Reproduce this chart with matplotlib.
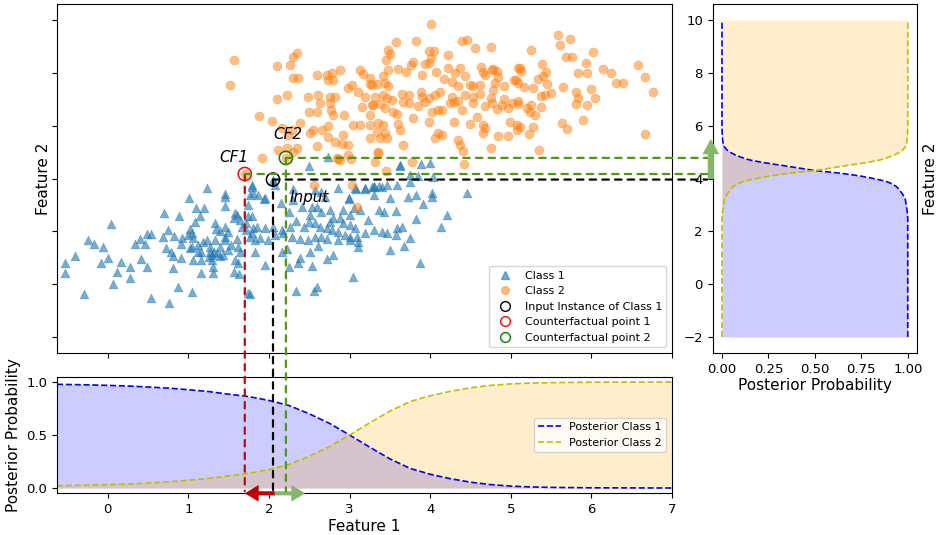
import matplotlib
matplotlib.use('Agg')
import matplotlib.pyplot as plt
from matplotlib.patches import ConnectionPatch
from matplotlib.lines import Line2D
import numpy as np

# ---- data ------------------------------------------------------------------
class1_pts = [
    (1.23, 3.63), (1.01, 3.25), (1.46, 3.41), (1.45, 2.96), (1.10, 2.87), (1.20, 2.90), (0.70, 2.71), (0.89, 2.59),
    (1.14, 2.58), (1.08, 2.37), (1.58, 2.68), (1.56, 2.49), (0.04, 2.27), (0.49, 1.90), (0.54, 1.90), (0.40, 1.70),
    (0.34, 1.51), (0.46, 1.51), (-0.24, 1.67), (-0.17, 1.51), (-0.06, 1.40), (-0.41, 1.07), (-0.53, 0.79), (-0.53, 0.41),
    (0.00, 0.98), (-0.08, 0.81), (0.16, 0.83), (0.11, 0.47), (0.27, 0.66), (0.28, 0.22), (0.41, 0.95), (0.49, 0.64),
    (0.07, 0.01), (-0.29, -0.38), (0.54, -0.53), (0.76, -0.72), (0.87, -0.12), (1.04, -0.31), (0.81, 0.60), (0.91, 0.98),
    (0.69, 1.80), (0.75, 2.05), (0.82, 1.84), (0.92, 1.74), (1.02, 2.08), (1.04, 1.93), (1.00, 1.86), (1.06, 1.74),
    (0.72, 1.36), (0.78, 1.23), (0.81, 1.07), (0.91, 1.52), (1.02, 1.36), (1.04, 1.42), (1.06, 0.92), (1.12, 1.23),
    (1.16, 0.92), (1.16, 0.44), (1.30, 0.41), (1.31, 0.66), (1.29, 0.92), (1.32, 1.23), (1.27, 1.42), (1.23, 1.67),
    (1.33, 1.67), (1.34, 2.08), (1.33, 2.30), (1.39, 2.03), (1.45, 2.15), (1.49, 1.99), (1.46, 1.80), (1.39, 1.42),
    (1.43, 1.10), (1.49, 1.29), (1.53, 1.48), (1.60, 1.72), (1.62, 1.42), (1.64, 1.23), (1.58, 0.92), (1.62, 0.81),
    (1.56, 0.47), (1.63, 0.39), (1.74, -0.35), (1.66, 2.15), (1.72, 2.30), (1.72, 2.05), (1.79, 1.93), (1.64, 2.43),
    (1.60, 2.62), (1.74, 3.00), (1.76, 3.38), (1.74, 2.58), (1.79, 2.58), (1.39, 1.07), (1.45, 1.67), (1.27, 1.23),
    (1.29, 1.10), (1.25, 1.04), (1.35, 1.17), (1.18, 1.61), (1.12, 1.48), (1.16, 1.23),
    (2.73, 4.80), (2.50, 4.47), (3.62, 4.51), (3.88, 4.54), (4.00, 4.60), (1.79, 3.75), (1.94, 3.21), (1.80, 3.44),
    (2.05, 3.96), (2.15, 3.06), (2.25, 2.74), (2.30, 3.19), (2.41, 2.93), (2.53, 2.93), (2.51, 2.62), (2.59, 2.93),
    (2.65, 2.74), (2.76, 2.81), (2.86, 3.63), (2.99, 3.21), (3.08, 3.59), (3.19, 3.59), (3.30, 3.69), (3.40, 3.69),
    (3.46, 3.75), (3.30, 3.38), (3.50, 3.25), (3.73, 3.31), (3.91, 3.02), (4.02, 3.44), (2.92, 2.81), (3.01, 2.62),
    (3.05, 2.87), (3.13, 2.81), (3.23, 2.43), (3.36, 2.81), (3.43, 2.74), (3.57, 2.78), (3.83, 2.47), (4.21, 2.62),
    (4.14, 2.15), (3.59, 2.12), (3.65, 2.15), (3.75, 1.76), (3.57, 1.86), (3.46, 1.93), (3.40, 1.99), (3.30, 2.05),
    (3.19, 1.93), (3.09, 1.80), (3.01, 1.80), (2.94, 1.86), (2.86, 1.99), (2.76, 2.37), (2.78, 2.05), (2.72, 2.12),
    (2.63, 2.18), (2.57, 2.30), (2.50, 2.37), (2.43, 2.15), (2.34, 2.40), (2.26, 2.18), (2.16, 2.05), (2.05, 2.18),
    (1.95, 2.12), (1.85, 2.15), (1.80, 2.12), (1.76, 1.80), (1.83, 1.67), (1.89, 1.74), (1.99, 1.67), (2.07, 1.86),
    (2.18, 1.93), (2.28, 1.80), (2.39, 1.70), (2.49, 1.67), (2.57, 1.78), (2.65, 1.80), (2.72, 1.70), (2.86, 1.67),
    (3.01, 1.67), (3.11, 1.42), (3.11, 1.61), (2.61, 1.45), (2.51, 1.23), (2.39, 0.98), (2.22, 1.32), (2.16, 1.23),
    (2.25, 0.66), (1.95, 0.73), (1.83, 1.23), (2.36, 0.81), (2.53, 0.69), (2.72, 0.94), (2.80, 1.10), (3.04, 0.26),
    (3.50, 1.29), (3.67, 1.45), (3.87, 0.79), (2.59, -0.09), (2.56, -0.25), (2.34, -0.25), (1.76, -0.37), (2.88, 2.49),
    (2.92, 2.33), (3.01, 2.24), (3.07, 2.12), (2.80, 2.52),
    (3.63, 4.49), (3.75, 4.13), (3.85, 4.10), (4.03, 4.05), (3.30, 3.73), (3.36, 3.73), (3.59, 3.75), (3.75, 3.88),
    (3.83, 3.38), (4.02, 3.31), (4.46, 3.44), (1.79, 3.69), (1.87, 3.38), (1.95, 3.25), (2.30, 3.60), (2.57, 3.57),
    (2.65, 3.50), (2.70, 3.31), (3.07, 3.63), (3.19, 3.63), (3.28, 3.69), (2.99, 3.25), (1.45, 3.31), (2.07, 3.75),
]

class2_pts = [
    (1.57, 8.49), (1.52, 7.54), (2.35, 8.75), (2.30, 8.60), (2.10, 8.26), (2.26, 8.30), (2.30, 7.80), (2.36, 7.80),
    (2.22, 7.16), (2.10, 7.01), (1.88, 6.37), (2.04, 6.18), (2.39, 6.10), (2.16, 5.91), (2.29, 5.84), (2.24, 5.65),
    (2.11, 5.08), (2.22, 5.16), (2.30, 5.00), (2.35, 5.16), (1.91, 4.78), (2.48, 7.09), (2.61, 7.16), (2.50, 6.52),
    (2.60, 6.52), (2.63, 6.86), (2.60, 7.92), (2.72, 7.92), (2.78, 7.99), (2.73, 7.73), (2.80, 7.73), (2.88, 8.11),
    (2.76, 7.09), (2.82, 7.09), (2.76, 6.86), (2.77, 6.59), (2.80, 6.40), (2.93, 6.40), (2.73, 5.99), (2.66, 5.84),
    (2.55, 5.84), (2.51, 5.72), (2.73, 5.57), (2.82, 5.38), (2.91, 5.31), (2.98, 5.27), (2.98, 4.89), (2.86, 4.74),
    (2.92, 5.65), (3.04, 6.03), (2.98, 7.43), (3.03, 7.54), (3.11, 7.27), (3.19, 7.09), (3.15, 6.71), (3.28, 6.78),
    (3.25, 6.03), (3.13, 6.03), (3.25, 5.53), (3.13, 8.11), (3.17, 7.96), (3.25, 7.80), (3.28, 7.54), (3.25, 6.40),
    (2.88, 4.70), (3.02, 4.74),
    (4.01, 9.85), (3.57, 9.17), (3.83, 9.21), (3.48, 8.86), (3.50, 8.71), (3.45, 8.49), (4.40, 9.21), (4.46, 9.24),
    (4.55, 8.94), (4.76, 8.98), (3.98, 8.83), (4.05, 8.83), (4.01, 8.56), (4.22, 8.67), (3.79, 8.41), (3.76, 8.30),
    (3.93, 8.33), (3.98, 8.37), (4.22, 8.18), (4.37, 8.18), (4.31, 7.99), (4.43, 7.88), (3.48, 8.11), (3.60, 8.15),
    (3.70, 8.03), (3.90, 7.92), (4.07, 8.03), (3.42, 7.88), (3.25, 7.58), (3.34, 7.58), (3.44, 7.62), (3.48, 7.50),
    (4.17, 7.77), (4.27, 7.65), (4.35, 7.50), (4.50, 7.54), (4.53, 7.50), (4.62, 7.54), (4.63, 8.22), (4.65, 8.03),
    (4.68, 7.92), (4.77, 8.11), (4.78, 8.15), (4.83, 8.07), (4.84, 7.84), (4.81, 7.62), (4.78, 7.35), (4.91, 7.50),
    (5.04, 7.73), (5.09, 8.18),
    (3.32, 7.09), (3.42, 7.16), (3.47, 7.05), (3.53, 6.97), (3.65, 7.20), (3.74, 7.16), (3.88, 7.28), (3.90, 7.09),
    (3.98, 7.05), (4.06, 7.16), (4.12, 7.28), (4.27, 7.09), (4.35, 6.93), (4.43, 7.16), (4.53, 7.09), (4.62, 7.20),
    (4.75, 7.05), (4.77, 6.86), (4.91, 7.01), (4.89, 6.78), (5.02, 6.86), (5.09, 6.82), (3.29, 6.78), (3.38, 6.82),
    (3.44, 6.67), (3.54, 6.52), (3.59, 6.44), (3.66, 6.90), (3.74, 6.86), (3.85, 6.75), (3.93, 6.90), (4.02, 6.52),
    (4.10, 6.59), (4.15, 6.59), (4.25, 6.86), (4.29, 6.90), (4.40, 6.59), (4.53, 6.86), (4.68, 6.75), (4.83, 6.63),
    (4.97, 6.67),
    (3.35, 6.10), (3.42, 6.03), (3.34, 5.76), (3.44, 5.72), (3.38, 5.53), (3.47, 5.53), (3.60, 6.06), (3.63, 5.84),
    (3.79, 6.29), (3.99, 6.14), (4.10, 5.72), (4.06, 5.53), (4.15, 5.65), (4.30, 6.14), (4.35, 5.46), (4.37, 5.27),
    (4.41, 5.04), (4.50, 6.06), (4.58, 6.33), (4.65, 6.03), (4.68, 5.91), (4.66, 5.72), (4.84, 5.61), (4.75, 5.16),
    (4.96, 5.61), (5.08, 5.84), (4.99, 6.14), (3.35, 5.00), (3.66, 5.27), (3.32, 4.62), (3.45, 4.28), (3.78, 4.62),
    (4.42, 4.55),
    (5.59, 9.43), (5.61, 9.05), (5.74, 9.28), (5.25, 8.86), (5.68, 8.60), (5.76, 8.60), (6.02, 8.79), (5.93, 8.37),
    (5.39, 8.33), (5.12, 8.18), (5.13, 8.07), (5.83, 7.99), (5.95, 7.99), (5.44, 8.03), (5.40, 7.88), (5.34, 7.77),
    (5.45, 7.58), (6.15, 8.15), (6.24, 7.99), (6.30, 7.62), (6.39, 7.62), (6.58, 8.30), (6.67, 7.84), (6.76, 7.27),
    (6.66, 5.69), (5.06, 7.73), (5.09, 7.62), (5.16, 7.46), (5.27, 7.43), (5.50, 7.24), (5.43, 7.16), (5.37, 7.12),
    (5.65, 7.46), (5.81, 7.27), (5.83, 7.05), (5.81, 6.82), (5.95, 6.78), (5.99, 7.39), (6.04, 7.05), (5.89, 6.21),
    (5.64, 6.10), (5.70, 5.88), (5.09, 6.93), (5.25, 6.78), (5.20, 6.67), (5.24, 6.52), (5.30, 6.40), (5.37, 6.71),
    (5.08, 6.03), (5.12, 5.95), (5.28, 5.95), (5.22, 5.69), (5.35, 5.08),
    (2.60, 5.23), (2.84, 4.78), (3.35, 4.97), (2.56, 3.75), (3.03, 3.75), (3.09, 2.92),
    (1.70, 4.17), (2.21, 4.78),
]

input_pt = (2.05, 3.96)
cf1_pt = (1.70, 4.17)
cf2_pt = (2.21, 4.78)

# posterior along feature 1 (bottom panel)
feat1_grid = [-0.63, -0.25, 0.0, 0.25, 0.5, 0.75, 1.0, 1.25, 1.5, 1.75, 2.0, 2.25, 2.5, 2.75,
              3.0, 3.25, 3.5, 3.75, 4.0, 4.25, 4.5, 4.75, 5.0, 5.25, 5.5, 6.0, 6.5, 7.0]
post1_f1 = [0.978, 0.973, 0.968, 0.962, 0.953, 0.942, 0.927, 0.910, 0.885, 0.862, 0.826, 0.778, 0.700, 0.610,
            0.500, 0.385, 0.275, 0.185, 0.130, 0.088, 0.055, 0.032, 0.018, 0.010, 0.006, 0.002, 0.001, 0.000]
post2_f1 = [0.022, 0.027, 0.032, 0.038, 0.047, 0.058, 0.073, 0.090, 0.115, 0.138, 0.174, 0.222, 0.300, 0.390,
            0.500, 0.615, 0.725, 0.815, 0.870, 0.912, 0.945, 0.968, 0.982, 0.990, 0.994, 0.998, 0.999, 1.000]

# posterior along feature 2 (right panel)
feat2_grid = [-2.0, 2.5, 2.7, 2.9, 3.2, 3.4, 3.6, 3.7, 3.8, 3.9, 4.0, 4.1, 4.2, 4.3, 4.4, 4.5,
              4.6, 4.7, 4.8, 4.9, 5.0, 5.1, 5.2, 5.35, 5.5, 5.75, 6.0, 10.0]
post1_f2 = [1.000, 1.000, 0.998, 0.994, 0.987, 0.973, 0.952, 0.938, 0.915, 0.880, 0.815, 0.740, 0.640, 0.500,
            0.410, 0.320, 0.225, 0.150, 0.105, 0.070, 0.042, 0.024, 0.013, 0.006, 0.003, 0.001, 0.000, 0.000]
post2_f2 = [0.000, 0.000, 0.002, 0.006, 0.013, 0.027, 0.048, 0.062, 0.085, 0.120, 0.185, 0.260, 0.360, 0.500,
            0.590, 0.680, 0.775, 0.850, 0.895, 0.930, 0.958, 0.976, 0.987, 0.994, 0.997, 0.999, 1.000, 1.000]

f1_ticks = [0, 1, 2, 3, 4, 5, 6, 7]
f2_ticks = [-2, 0, 2, 4, 6, 8, 10]

# ---- style -----------------------------------------------------------------
plt.rcParams['font.size'] = 11
plt.rcParams['xtick.labelsize'] = 9.5
plt.rcParams['ytick.labelsize'] = 9.5

c1 = np.array(class1_pts)
c2 = np.array(class2_pts)

fig = plt.figure(figsize=(9.37, 5.35), dpi=100)
ax = fig.add_axes([0.0608, 0.3405, 0.6564, 0.6517])
ax_b = fig.add_axes([0.0608, 0.0779, 0.6564, 0.2180])
ax_r = fig.add_axes([0.7606, 0.3405, 0.2181, 0.6517])

# main scatter
ax.scatter(c1[:, 0], c1[:, 1], marker='^', s=40, color='C0', alpha=0.6, linewidths=0.4)
ax.scatter(c2[:, 0], c2[:, 1], marker='o', s=42, color='C1', alpha=0.5, linewidths=0.4)
ax.scatter(*input_pt, s=90, facecolors='none', edgecolors='black', linewidths=1.1, zorder=5)
ax.scatter(*cf1_pt, s=90, facecolors='none', edgecolors='red', linewidths=1.1, zorder=5)
ax.scatter(*cf2_pt, s=90, facecolors='none', edgecolors='green', linewidths=1.1, zorder=5)

ax.text(1.57, 4.80, 'CF1', fontsize=11, style='italic', ha='center', va='center')
ax.text(2.24, 5.68, 'CF2', fontsize=11, style='italic', ha='center', va='center')
ax.text(2.50, 3.28, 'Input', fontsize=11, style='italic', ha='center', va='center')

ax.set_xlim(-0.63, 7)
ax.set_ylim(-2.6, 10.6)
ax.set_xticks(f1_ticks)
ax.set_xticklabels([])
ax.set_yticks(f2_ticks)
ax.set_yticklabels([])
ax.set_ylabel('Feature 2', labelpad=-3)

handles = [
    Line2D([], [], ls='none', marker='^', color='C0', alpha=0.6, markersize=5.5),
    Line2D([], [], ls='none', marker='o', color='C1', alpha=0.5, markersize=5.5),
    Line2D([], [], ls='none', marker='o', mfc='none', mec='black', markersize=7),
    Line2D([], [], ls='none', marker='o', mfc='none', mec='red', markersize=7),
    Line2D([], [], ls='none', marker='o', mfc='none', mec='green', markersize=7),
]
labels = ['Class 1', 'Class 2', 'Input Instance of Class 1', 'Counterfactual point 1', 'Counterfactual point 2']
ax.legend(handles, labels, loc='lower right', fontsize=8, borderaxespad=0.5)

# bottom posterior panel
ax_b.plot(feat1_grid, post1_f1, 'b--', lw=1.2, label='Posterior Class 1')
ax_b.plot(feat1_grid, post2_f1, 'y--', lw=1.2, label='Posterior Class 2')
ax_b.fill_between(feat1_grid, 0, post1_f1, color='blue', alpha=0.2, lw=0)
ax_b.fill_between(feat1_grid, 0, post2_f1, color='orange', alpha=0.2, lw=0)
ax_b.set_xlim(-0.63, 7)
ax_b.set_ylim(-0.05, 1.05)
ax_b.set_xticks(f1_ticks)
ax_b.set_xlabel('Feature 1', labelpad=2)
ax_b.set_ylabel('Posterior Probability')
ax_b.legend(loc='center right', fontsize=8)

# right posterior panel
ax_r.plot(post1_f2, feat2_grid, 'b--', lw=1.2)
ax_r.plot(post2_f2, feat2_grid, 'y--', lw=1.2)
ax_r.fill_betweenx(feat2_grid, 0, post1_f2, color='blue', alpha=0.2, lw=0)
ax_r.fill_betweenx(feat2_grid, 0, post2_f2, color='orange', alpha=0.2, lw=0)
ax_r.set_xlim(-0.05, 1.05)
ax_r.set_ylim(-2.6, 10.6)
ax_r.set_yticks(f2_ticks)
ax_r.set_xlabel('Posterior Probability', labelpad=2)
ax_r.set_ylabel('Feature 2')
ax_r.yaxis.set_label_position('right')

# guide lines from the points to the posterior panels
dash = (0, (2.9, 2.8))
red_dark = '#b50d0d'
green_dark = '#4f9a0a'
arrow_green = '#86b76a'

for pt, col in [(cf1_pt, red_dark), (input_pt, 'black'), (cf2_pt, green_dark)]:
    con = ConnectionPatch(xyA=pt, coordsA=ax.transData, xyB=(pt[0], -0.03), coordsB=ax_b.transData,
                          color=col, lw=1.6, linestyle=dash)
    fig.add_artist(con)

for pt, col in [(cf1_pt, green_dark), (input_pt, 'black'), (cf2_pt, green_dark)]:
    con = ConnectionPatch(xyA=pt, coordsA=ax.transData, xyB=(-0.08, pt[1]), coordsB=ax_r.transData,
                          color=col, lw=1.6, linestyle=dash)
    fig.add_artist(con)

# shift arrows
ax_b.annotate('', xy=(2.45, -0.05), xytext=(2.05, -0.05), annotation_clip=False,
              arrowprops=dict(facecolor=arrow_green, edgecolor='none', width=3, headwidth=12,
                              headlength=10, shrink=0))
ax_b.annotate('', xy=(1.70, -0.05), xytext=(2.07, -0.05), annotation_clip=False,
              arrowprops=dict(facecolor='#c00000', edgecolor='none', width=3, headwidth=12,
                              headlength=10, shrink=0))
ax_r.annotate('', xy=(-0.06, 5.50), xytext=(-0.06, 3.98), annotation_clip=False,
              arrowprops=dict(facecolor=arrow_green, edgecolor='none', width=4.5, headwidth=12,
                              headlength=11, shrink=0))

fig.savefig('out.png', dpi=100)
